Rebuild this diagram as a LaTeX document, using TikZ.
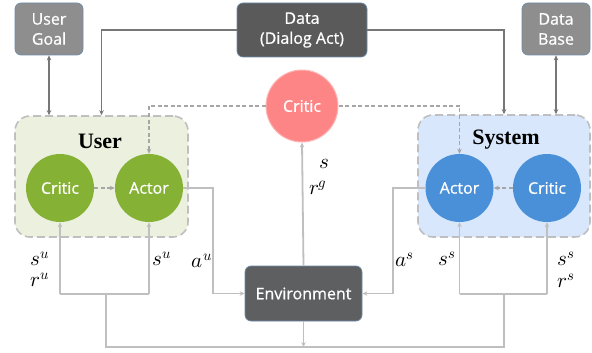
\documentclass[tikz,border=0pt]{standalone}
\usepackage{fontspec}
\usepackage{unicode-math}
\setmainfont{Liberation Serif}
\setsansfont{Open Sans}
\newfontfamily\boxfont[FakeBold=0.7]{Open Sans}
\setmathfont{Latin Modern Math}
\usetikzlibrary{arrows.meta,calc}
\definecolor{goalgray}{HTML}{8E8E8E}
\definecolor{datagray}{HTML}{5A5A5A}
\definecolor{envgray}{HTML}{5E5F61}
\definecolor{boxedge}{HTML}{6E8CAA}
\definecolor{ugreen}{HTML}{EBF1DE}
\definecolor{sblue}{HTML}{D8E7FB}
\definecolor{cgreen}{HTML}{85B135}
\definecolor{cblue}{HTML}{4A90D9}
\definecolor{cpink}{HTML}{FD8585}
\definecolor{lline}{HTML}{BFBFBF}
\definecolor{dline}{HTML}{777777}
\definecolor{dash}{HTML}{A6A6A6}
\begin{document}
\begin{tikzpicture}[x=1pt,y=-1pt,
  box/.style={draw=boxedge, line width=0.7pt, rounded corners=6pt, text=white,
    font=\boxfont\fontsize{16}{20}\selectfont, align=center, inner sep=0pt},
  group/.style={draw=lline, line width=1.6pt, dash pattern=on 8pt off 4pt, rounded corners=15pt},
  circ/.style={circle, minimum size=68pt, inner sep=0pt, text=white,
    font=\boxfont\fontsize{16}{20}\selectfont},
  head/.style={font=\bfseries\fontsize{22}{26}\selectfont, inner sep=0pt},
  lbl/.style={font=\fontsize{21}{24}\selectfont, inner sep=0pt},
  tip/.style={-{Stealth[length=5pt,width=4.5pt]}},
  lconn/.style={draw=lline, line width=1.8pt},
  dconn/.style={draw=dline, line width=1.6pt},
  dsh/.style={draw=dash, line width=1.6pt, dash pattern=on 4pt off 2.5pt}
]
\useasboundingbox (0,0) rectangle (592,353);

% groups
\node[group, fill=ugreen, minimum width=173pt, minimum height=121pt] (ubox) at (101.5,176.5) {};
\node[group, fill=sblue, minimum width=172pt, minimum height=122pt] (sbox) at (504,176) {};
\node[head] (uhead) at (100,141) {User};
\node[head] (shead) at (506,140) {System};

% boxes
\node[box, fill=goalgray, minimum width=68pt, minimum height=52pt] (goal) at (49,29) {User\\Goal};
\node[box, fill=datagray, minimum width=130pt, minimum height=54pt] (data) at (302,30) {Data\\(Dialog Act)};
\node[box, fill=goalgray, minimum width=68pt, minimum height=52pt] (db) at (556,29) {Data\\Base};
\node[box, fill=envgray, minimum width=117pt, minimum height=55pt] (env) at (303.5,293.5) {Environment};

% circles
\node[circ, fill=cgreen] (ucritic) at (60,188) {Critic};
\node[circ, fill=cgreen] (uactor) at (149,188) {Actor};
\node[circ, fill=cblue] (sactor) at (459.5,188) {Actor};
\node[circ, fill=cblue] (scritic) at (547,188) {Critic};
\node[circ, fill=cpink, draw=cpink!60, line width=1pt, minimum size=72pt] (ccritic) at (302,106) {Critic};

% data connectors
\draw[dconn, tip] (data.west) -| (ubox.north);
\draw[dconn, tip] (data.east) -| (sbox.north);
\draw[dconn, {Stealth[length=5pt,width=4.5pt]}-{Stealth[length=5pt,width=4.5pt]}] (goal.south) -- (goal.south |- ubox.north);
\draw[dconn, {Stealth[length=5pt,width=4.5pt]}-{Stealth[length=5pt,width=4.5pt]}] (db.south) -- (db.south |- sbox.north);

% dashed critic links
\draw[dsh, tip] (ccritic.west) -| (uactor.north);
\draw[dsh, tip] (ccritic.east) -| (sactor.north);
\draw[dsh, tip] (ucritic.east) -- (uactor.west);
\draw[dsh, tip] (scritic.west) -- (sactor.east);

% actions
\draw[lconn, tip] (uactor.east) -- ++(30,0) |- (env.west);
\draw[lconn, tip] (sactor.west) -- ++(-32.5,0) |- (env.east);
\draw[lconn, tip] (env.north) -- (ccritic.south);

% state bus
\coordinate (ubus) at (106,294);
\coordinate (sbus) at (504,294);
\coordinate (bus) at (303.5,347);
\draw[lconn] (ubus) |- (bus) -| (sbus);
\draw[lconn, tip] (env.south) -- (bus);
\draw[lconn] (ucritic.south |- ubus) -- (uactor.south |- ubus);
\draw[lconn] (sactor.south |- sbus) -- (scritic.south |- sbus);
\draw[lconn, tip] (ucritic.south |- ubus) -- (ucritic.south);
\draw[lconn, tip] (uactor.south |- ubus) -- (uactor.south);
\draw[lconn, tip] (sactor.south |- sbus) -- (sactor.south);
\draw[lconn, tip] (scritic.south |- sbus) -- (scritic.south);

% labels
\node[lbl] (l1) at (40,259) {$s^u$};
\node[lbl] (l2) at (40,280) {$r^u$};
\node[lbl] (l3) at (162,259) {$s^u$};
\node[lbl] (l4) at (202,261) {$a^u$};
\node[lbl] (l5) at (324,164) {$s$};
\node[lbl] (l6) at (318,188) {$r^g$};
\node[lbl] (l7) at (405,260) {$a^s$};
\node[lbl] (l8) at (447,259) {$s^s$};
\node[lbl] (l9) at (566,259) {$s^s$};
\node[lbl] (l10) at (566,281) {$r^s$};
\end{tikzpicture}
\end{document}
